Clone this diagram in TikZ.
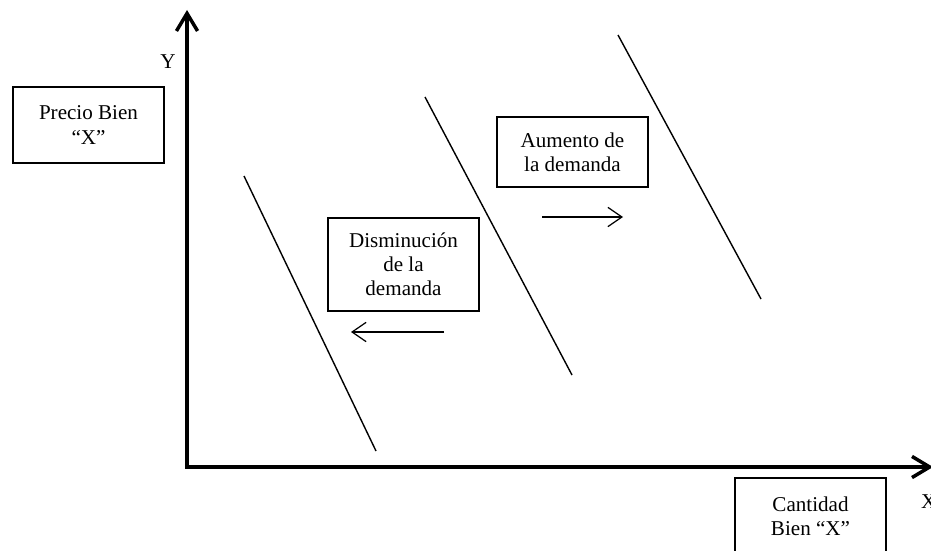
\documentclass[tikz,border=0pt]{standalone}
\usepackage{fontspec}
\setmainfont{Liberation Serif}
\usetikzlibrary{arrows.meta, positioning}

\begin{document}
\begin{tikzpicture}[x=0.02cm, y=-0.02cm, font=\fontsize{12}{13.8}\selectfont]
    \tikzstyle{axis}=[line width=2pt, -{Straight Barb[length=10pt,width=12pt]}]
    \tikzstyle{shift arrow}=[line width=0.7pt, -{Straight Barb[length=8pt,width=11pt]}]
    \tikzstyle{demand}=[line width=0.8pt]
    \tikzstyle{note}=[draw, line width=0.7pt, minimum width=3.02cm, align=center, inner sep=2pt]

    \useasboundingbox (0,0) rectangle (931,551);

    % Draw the axes
    \coordinate (O) at (187,467);
    \coordinate (Y-end) at (187,10);
    \coordinate (X-end) at (933,467);
    \draw[axis] ([yshift=-1pt]O) -- (Y-end);
    \draw[axis] ([xshift=-1pt]O) -- (X-end);
    \node (Y) at (168,62) {Y};
    \node[anchor=west] (X) at (915,502) {X};

    % Draw the demand curves
    \foreach \name / \xa / \ya / \xb / \yb in {1/244/176/376/451, 2/425/97/572/375, 3/618/35/761/299}
        \draw[demand] (\xa,\ya) coordinate (D\name-top) -- (\xb,\yb) coordinate (D\name-bot);

    % Draw the boxes
    \node[note, minimum height=1.52cm] (precio) at (88.5,125) {Precio Bien\\“X”};
    \node[note, minimum height=1.52cm] (cantidad) at (810.5,516) {Cantidad\\Bien “X”};
    \node[note, minimum height=1.86cm] (dismin) at (403.5,264.5) {Disminución\\de la\\demanda};
    \node[note, minimum height=1.4cm] (aumento) at (572.5,152) {Aumento de\\la demanda};

    % Draw the shift arrows
    \coordinate (L-start) at (444,332);
    \coordinate (L-end) at (351,332);
    \coordinate (R-start) at (542,217);
    \coordinate (R-end) at (623,217);
    \draw[shift arrow] (L-start) -- (L-end);
    \draw[shift arrow] (R-start) -- (R-end);
\end{tikzpicture}
\end{document}
